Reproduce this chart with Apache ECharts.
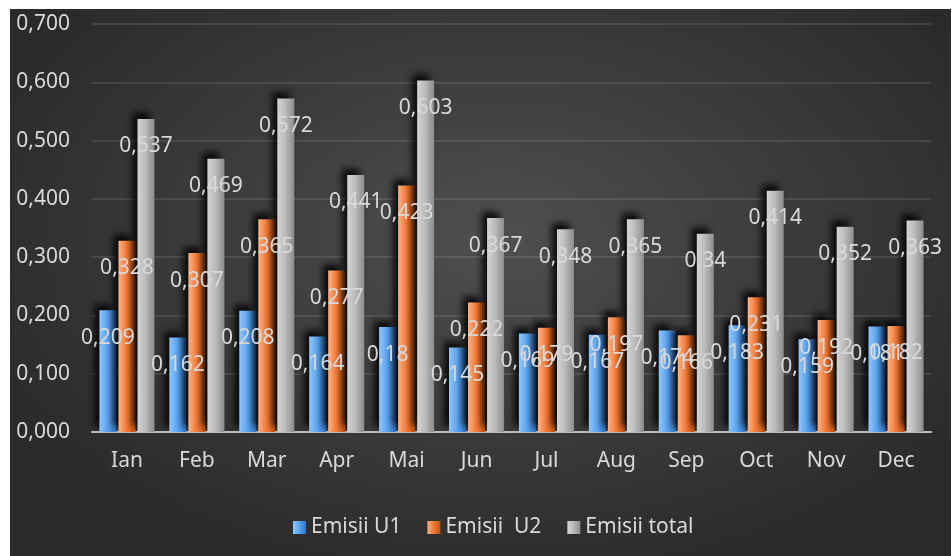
<!DOCTYPE html>
<html>
<head>
<meta charset="UTF-8">
<title>Emisii</title>
<script src="https://cdn.jsdelivr.net/npm/echarts@6/dist/echarts.min.js"></script>
<style>
  html, body { margin: 0; padding: 0; background: #ffffff; }
  #chart {
    position: absolute; left: 10px; top: 9px; width: 941px; height: 547px;
    background: radial-gradient(ellipse 60% 65% at 52% 42%, #4f4f4f 0%, #3e3e3e 45%, #2a2a2a 100%);
  }
</style>
</head>
<body>
<div id="chart"></div>
<script type="text/javascript">
var months = ['Ian', 'Feb', 'Mar', 'Apr', 'Mai', 'Jun', 'Jul', 'Aug', 'Sep', 'Oct', 'Nov', 'Dec'];
var emisiiU1 = [0.209, 0.162, 0.208, 0.164, 0.18, 0.145, 0.169, 0.167, 0.174, 0.183, 0.159, 0.181];
var emisiiU2 = [0.328, 0.307, 0.365, 0.277, 0.423, 0.222, 0.179, 0.197, 0.166, 0.231, 0.192, 0.182];
var emisiiTotal = [0.537, 0.469, 0.572, 0.441, 0.603, 0.367, 0.348, 0.365, 0.34, 0.414, 0.352, 0.363];
var seriesNames = ['Emisii U1', 'Emisii  U2', 'Emisii total'];

var font = '"Noto Sans", "Open Sans", sans-serif';
var txt = '#d9d9d9';

function grad(c1, c2, c3) {
    return new echarts.graphic.LinearGradient(0, 0, 1, 0, [
        { offset: 0, color: c1 }, { offset: 0.45, color: c2 }, { offset: 1, color: c3 }
    ]);
}

function makeSeries(name, data, color) {
    return {
        name: name,
        type: 'bar',
        data: data,
        barWidth: 17,
        barGap: '12%',
        itemStyle: {
            color: color,
            shadowColor: 'rgba(0,0,0,0.85)',
            shadowBlur: 7,
            shadowOffsetX: -5,
            shadowOffsetY: -6
        },
        label: {
            show: true,
            position: 'insideTop',
            distance: 17,
            color: txt,
            fontFamily: font,
            fontSize: 21,
            formatter: function (p) { return String(p.value).replace('.', ','); }
        }
    };
}

var chart = echarts.init(document.getElementById('chart'));
chart.setOption({
    backgroundColor: 'transparent',
    animation: false,
    grid: { left: 82, right: 20, top: 15, bottom: 124 },
    legend: {
        left: 278,
        top: 503,
        itemWidth: 13,
        itemHeight: 13,
        itemGap: 26,
        icon: 'rect',
        textStyle: { color: txt, fontFamily: font, fontSize: 21 },
        itemStyle: { shadowBlur: 0, shadowOffsetX: 0, shadowOffsetY: 0 },
        data: seriesNames
    },
    xAxis: {
        type: 'category',
        data: months,
        axisLine: { lineStyle: { color: '#bfbfbf', width: 2 } },
        axisTick: { show: false },
        axisLabel: { color: txt, fontFamily: font, fontSize: 21, margin: 19 }
    },
    yAxis: {
        type: 'value',
        min: 0,
        max: 0.7,
        interval: 0.1,
        axisLine: { show: false },
        axisTick: { show: false },
        splitLine: { lineStyle: { color: 'rgba(255,255,255,0.1)', width: 2 } },
        axisLabel: {
            color: txt, fontFamily: font, fontSize: 21, margin: 22,
            formatter: function (v) { return v.toFixed(3).replace('.', ','); }
        }
    },
    series: [
        makeSeries(seriesNames[0], emisiiU1, grad('#8ec6ff', '#5ea6f0', '#3174c4')),
        makeSeries(seriesNames[1], emisiiU2, grad('#ffb383', '#f47d3c', '#c4520f')),
        makeSeries(seriesNames[2], emisiiTotal, grad('#d4d4d4', '#bcbcbc', '#8c8c8c'))
    ]
});
</script>
</body>
</html>
